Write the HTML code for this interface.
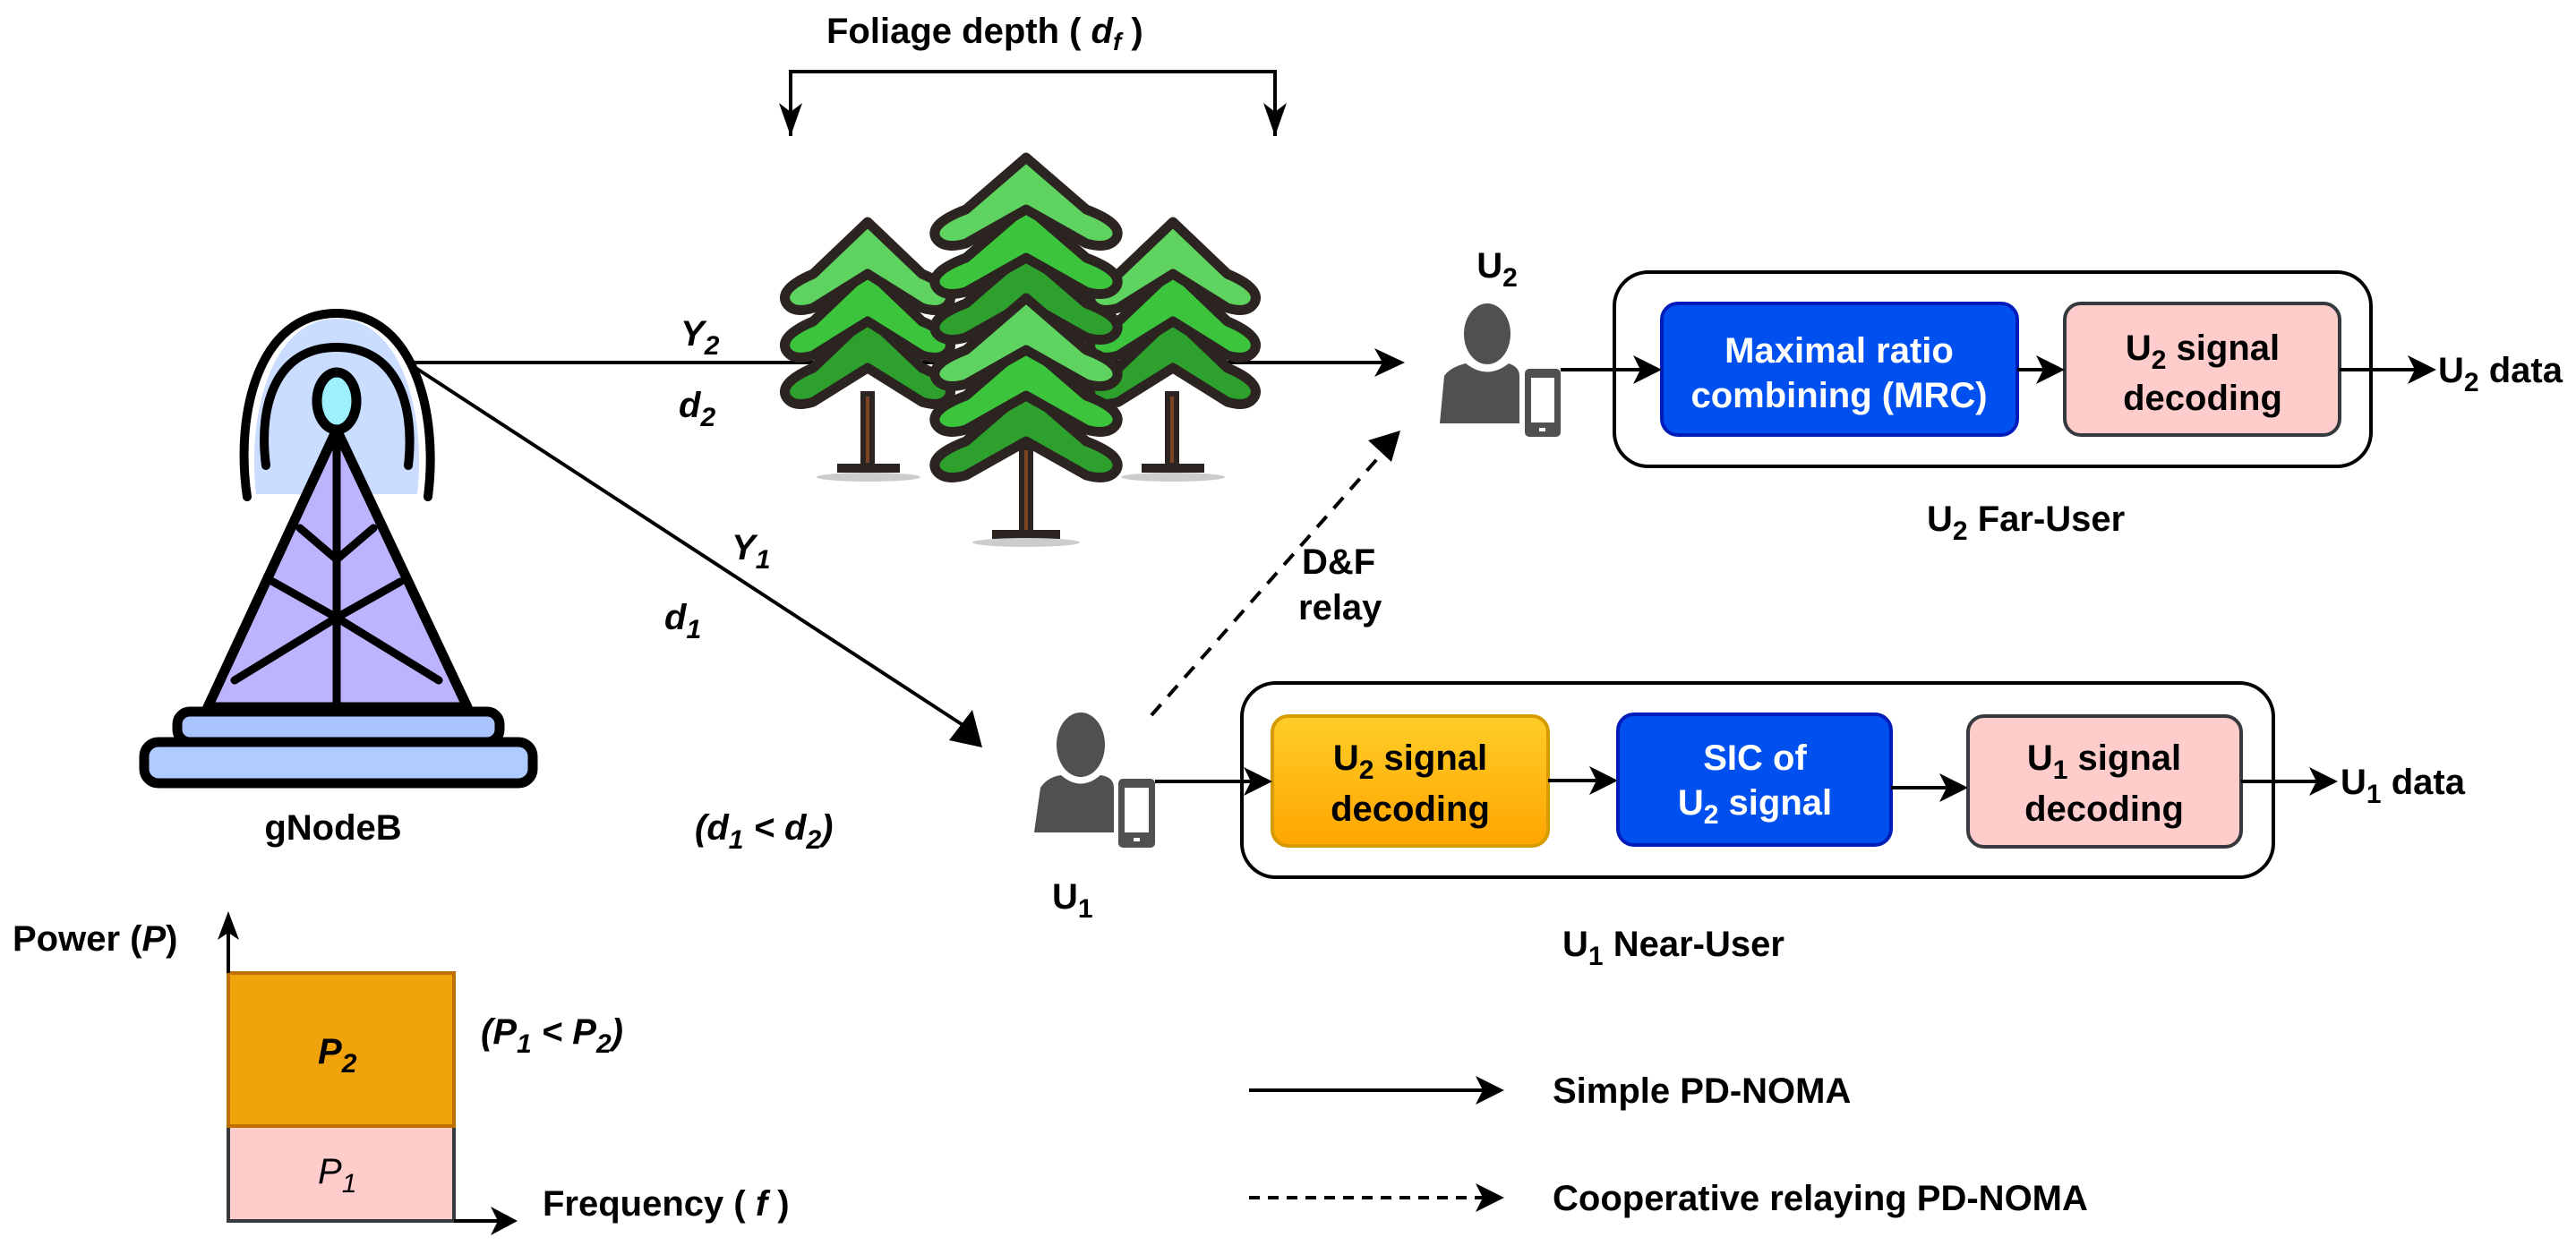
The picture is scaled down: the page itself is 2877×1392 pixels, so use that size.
<!DOCTYPE html>
<html><head><meta charset="utf-8"><style>
html,body{margin:0;padding:0;background:#fff}
svg{display:block}
text{font-family:"Liberation Sans",Arial,sans-serif;font-weight:bold;font-size:40px;fill:#000}
.w{fill:#fff}
.i{font-style:italic}
</style></head><body>
<svg width="2877" height="1392" viewBox="0 0 2877 1392" xmlns="http://www.w3.org/2000/svg">
<defs>
<linearGradient id="og" x1="0" y1="0" x2="0" y2="1"><stop offset="0" stop-color="#ffcd28"/><stop offset="1" stop-color="#ffa500"/></linearGradient>
<g id="tier">
<path d="M0,0 L32,58 Q52,74 48,90 Q44,103 32,96 L0,58 L-32,96 Q-44,103 -48,90 Q-52,74 -32,58 Z" stroke="#2b2420" stroke-width="11" stroke-linejoin="round" vector-effect="non-scaling-stroke"/>
</g>
</defs>

<!-- Foliage label and bracket -->
<text x="923" y="48">Foliage depth ( <tspan class="i">d</tspan><tspan class="i" font-size="28" dy="8">f</tspan><tspan dy="-8"> )</tspan></text>
<polyline points="883,152 883,80 1424,80 1424,152" fill="none" stroke="#000" stroke-width="4"/>
<polygon points="870,115 883,152 896,115 883,125" fill="#000"/>
<polygon points="1411,115 1424,152 1437,115 1424,125" fill="#000"/>

<!-- Y2 link (behind trees) -->
<line x1="455" y1="405" x2="1545" y2="405" stroke="#000" stroke-width="4"/>
<polygon points="1535,389 1569,405 1535,421 1544,405" fill="#000"/>

<!-- Trees -->
<g>
 <!-- left tree -->
 <rect x="964" y="440" width="10" height="80" fill="#7a4520" stroke="#2b2420" stroke-width="6"/>
 <rect x="935" y="518" width="70" height="10" fill="#2b2420"/>
 <ellipse cx="970" cy="533" rx="58" ry="5" fill="#ccc"/>
 <g transform="translate(969,353) scale(1.9,1)" fill="#2da02d"><use href="#tier"/></g>
 <g transform="translate(969,301) scale(1.9,1)" fill="#3cc43c"><use href="#tier"/></g>
 <g transform="translate(969,248) scale(1.9,1)" fill="#5fd35f"><use href="#tier"/></g>
 <!-- right tree -->
 <rect x="1304" y="440" width="10" height="80" fill="#7a4520" stroke="#2b2420" stroke-width="6"/>
 <rect x="1275" y="518" width="70" height="10" fill="#2b2420"/>
 <ellipse cx="1310" cy="533" rx="58" ry="5" fill="#ccc"/>
 <g transform="translate(1310,353) scale(1.9,1)" fill="#2da02d"><use href="#tier"/></g>
 <g transform="translate(1310,301) scale(1.9,1)" fill="#3cc43c"><use href="#tier"/></g>
 <g transform="translate(1310,248) scale(1.9,1)" fill="#5fd35f"><use href="#tier"/></g>
 <!-- center tree -->
 <rect x="1141" y="500" width="10" height="95" fill="#7a4520" stroke="#2b2420" stroke-width="6"/>
 <rect x="1108" y="592" width="76" height="10" fill="#2b2420"/>
 <ellipse cx="1146" cy="606" rx="60" ry="5" fill="#ccc"/>
 <g transform="translate(1146,281) scale(2.1,1)" fill="#2da02d"><use href="#tier"/></g>
 <g transform="translate(1146,230) scale(2.1,1)" fill="#3cc43c"><use href="#tier"/></g>
 <g transform="translate(1146,176) scale(2.1,1)" fill="#5fd35f"><use href="#tier"/></g>
 <g transform="translate(1146,435) scale(2.1,1)" fill="#2da02d"><use href="#tier"/></g>
 <g transform="translate(1146,384) scale(2.1,1)" fill="#3cc43c"><use href="#tier"/></g>
 <g transform="translate(1146,333) scale(2.1,1)" fill="#5fd35f"><use href="#tier"/></g>
</g>

<!-- Tower -->
<g stroke="#000" stroke-linejoin="round" stroke-linecap="round">
 <path d="M286,552 C276,470 300,356 376,356 C452,356 476,470 466,552 Z" fill="#cadcff" stroke="none"/>
 <path d="M276,555 C262,460 290,350 376,350 C462,350 490,460 478,555" fill="none" stroke-width="10"/>
 <path d="M297,520 C288,450 310,388 376,388 C442,388 464,450 456,520" fill="none" stroke-width="10"/>
 <polygon points="376,480 232,790 522,790" fill="#bcb4ff" stroke-width="11"/>
 <line x1="376" y1="480" x2="376" y2="790" stroke-width="9"/>
 <polyline points="335,590 376,625 417,590" fill="none" stroke-width="9"/>
 <polyline points="305,650 376,690 447,650" fill="none" stroke-width="9"/>
 <polyline points="262,760 376,690 490,760" fill="none" stroke-width="9"/>
 <ellipse cx="376" cy="448" rx="22" ry="32" fill="#9ef0ff" stroke-width="11"/>
 <rect x="198" y="795" width="360" height="34" rx="14" fill="#a9c4ff" stroke-width="11"/>
 <rect x="161" y="829" width="434" height="46" rx="16" fill="#b0cbff" stroke-width="11"/>
</g>
<text x="372" y="938" text-anchor="middle">gNodeB</text>

<text class="i" x="760" y="386">Y<tspan font-size="30" dy="10">2</tspan></text>
<text class="i" x="758" y="466">d<tspan font-size="30" dy="10">2</tspan></text>

<!-- Y1 link -->
<line x1="455" y1="405" x2="1083" y2="815" stroke="#000" stroke-width="4"/>
<polygon points="1097,835 1060,827 1073,810 1086,793" fill="#000"/>
<text class="i" x="817" y="625">Y<tspan font-size="30" dy="10">1</tspan></text>
<text class="i" x="742" y="703">d<tspan font-size="30" dy="10">1</tspan></text>
<text class="i" x="776" y="938">(d<tspan font-size="30" dy="10">1</tspan><tspan dy="-10"> &lt; d</tspan><tspan font-size="30" dy="10">2</tspan><tspan dy="-10">)</tspan></text>

<!-- U1 person -->
<g fill="#505050">
 <ellipse cx="1207" cy="832" rx="27" ry="36"/>
 <path d="M1162,880 Q1170,868 1185,866 Q1207,885 1229,866 Q1244,868 1244,880 L1244,930 L1155,930 Z"/>
 <rect x="1249" y="870" width="41" height="77" rx="5"/>
 <rect x="1256" y="880" width="27" height="50" fill="#fff"/>
 <rect x="1266" y="936" width="7" height="4" fill="#fff"/>
</g>
<text x="1175" y="1015">U<tspan font-size="30" dy="10">1</tspan></text>

<!-- Dashed relay -->
<line x1="1286" y1="799" x2="1552" y2="497" stroke="#000" stroke-width="4" stroke-dasharray="16,12"/>
<polygon points="1564,481 1554,516 1540,503 1528,492" fill="#000"/>
<text x="1454" y="641">D&amp;F</text>
<text x="1450" y="692">relay</text>

<!-- U2 person -->
<g fill="#505050">
 <ellipse cx="1661" cy="373" rx="26" ry="34"/>
 <path d="M1613,420 Q1620,410 1637,406 Q1661,425 1685,406 Q1697,410 1697,420 L1697,473 L1608,473 Z"/>
 <rect x="1703" y="412" width="40" height="76" rx="5"/>
 <rect x="1710" y="422" width="26" height="50" fill="#fff"/>
 <rect x="1719" y="478" width="7" height="4" fill="#fff"/>
</g>
<text x="1672" y="310" text-anchor="middle">U<tspan font-size="30" dy="10">2</tspan></text>

<!-- Far user box -->
<rect x="1803" y="304" width="845" height="217" rx="38" fill="none" stroke="#000" stroke-width="4"/>
<rect x="1856" y="339" width="397" height="147" rx="18" fill="#0050ef" stroke="#001dbc" stroke-width="4"/>
<text class="w" x="2054" y="405" text-anchor="middle">Maximal ratio</text>
<text class="w" x="2054" y="455" text-anchor="middle">combining (MRC)</text>
<rect x="2306" y="339" width="307" height="147" rx="18" fill="#ffcccc" stroke="#36393d" stroke-width="4"/>
<text x="2460" y="402" text-anchor="middle">U<tspan font-size="30" dy="10">2</tspan><tspan dy="-10"> signal</tspan></text>
<text x="2460" y="458" text-anchor="middle">decoding</text>
<line x1="1743" y1="413" x2="1835" y2="413" stroke="#000" stroke-width="4"/>
<polygon points="1824,397 1856,413 1824,429 1832,413" fill="#000"/>
<line x1="2253" y1="413" x2="2286" y2="413" stroke="#000" stroke-width="4"/>
<polygon points="2274,397 2306,413 2274,429 2282,413" fill="#000"/>
<line x1="2613" y1="413" x2="2700" y2="413" stroke="#000" stroke-width="4"/>
<polygon points="2689,397 2721,413 2689,429 2697,413" fill="#000"/>
<text x="2723" y="427">U<tspan font-size="30" dy="10">2</tspan><tspan dy="-10"> data</tspan></text>
<text x="2152" y="593">U<tspan font-size="30" dy="10">2</tspan><tspan dy="-10"> Far-User</tspan></text>

<!-- Near user box -->
<rect x="1387" y="763" width="1152" height="217" rx="38" fill="none" stroke="#000" stroke-width="4"/>
<rect x="1421" y="800" width="308" height="145" rx="18" fill="url(#og)" stroke="#d79b00" stroke-width="4"/>
<text x="1575" y="860" text-anchor="middle">U<tspan font-size="30" dy="10">2</tspan><tspan dy="-10"> signal</tspan></text>
<text x="1575" y="917" text-anchor="middle">decoding</text>
<rect x="1807" y="798" width="305" height="146" rx="18" fill="#0050ef" stroke="#001dbc" stroke-width="4"/>
<text class="w" x="1960" y="860" text-anchor="middle">SIC of</text>
<text class="w" x="1960" y="910" text-anchor="middle">U<tspan font-size="30" dy="10">2</tspan><tspan dy="-10"> signal</tspan></text>
<rect x="2198" y="800" width="305" height="146" rx="18" fill="#ffcccc" stroke="#36393d" stroke-width="4"/>
<text x="2350" y="860" text-anchor="middle">U<tspan font-size="30" dy="10">1</tspan><tspan dy="-10"> signal</tspan></text>
<text x="2350" y="917" text-anchor="middle">decoding</text>
<line x1="1290" y1="873" x2="1400" y2="873" stroke="#000" stroke-width="4"/>
<polygon points="1389,857 1421,873 1389,889 1397,873" fill="#000"/>
<line x1="1729" y1="872" x2="1786" y2="872" stroke="#000" stroke-width="4"/>
<polygon points="1775,856 1807,872 1775,888 1783,872" fill="#000"/>
<line x1="2112" y1="880" x2="2177" y2="880" stroke="#000" stroke-width="4"/>
<polygon points="2166,864 2198,880 2166,896 2174,880" fill="#000"/>
<line x1="2503" y1="873" x2="2590" y2="873" stroke="#000" stroke-width="4"/>
<polygon points="2579,857 2611,873 2579,889 2587,873" fill="#000"/>
<text x="2614" y="887">U<tspan font-size="30" dy="10">1</tspan><tspan dy="-10"> data</tspan></text>
<text x="1745" y="1068">U<tspan font-size="30" dy="10">1</tspan><tspan dy="-10"> Near-User</tspan></text>

<!-- Legend -->
<line x1="1395" y1="1218" x2="1660" y2="1218" stroke="#000" stroke-width="4"/>
<polygon points="1648,1202 1680,1218 1648,1234 1656,1218" fill="#000"/>
<text x="1734" y="1232">Simple PD-NOMA</text>
<line x1="1395" y1="1338" x2="1660" y2="1338" stroke="#000" stroke-width="4" stroke-dasharray="12,9"/>
<polygon points="1648,1322 1680,1338 1648,1354 1656,1338" fill="#000"/>
<text x="1734" y="1352">Cooperative relaying PD-NOMA</text>

<!-- Power chart -->
<rect x="255" y="1258" width="252" height="106" fill="#ffcccc" stroke="#36393d" stroke-width="4"/>
<rect x="255" y="1087" width="252" height="171" fill="#f0a30a" stroke="#bd7000" stroke-width="4"/>
<line x1="255" y1="1087" x2="255" y2="1040" stroke="#000" stroke-width="4"/>
<polygon points="243,1050 255,1018 267,1050 255,1042" fill="#000"/>
<line x1="507" y1="1364" x2="560" y2="1364" stroke="#000" stroke-width="4"/>
<polygon points="548,1348 578,1364 548,1380 556,1364" fill="#000"/>
<text x="14" y="1062">Power (<tspan class="i">P</tspan>)</text>
<text class="i" x="355" y="1188">P<tspan font-size="30" dy="10">2</tspan></text>
<text class="i" x="355" y="1322" style="font-weight:normal">P<tspan font-size="30" dy="10">1</tspan></text>
<text class="i" x="537" y="1166">(P<tspan font-size="30" dy="10">1</tspan><tspan dy="-10"> &lt; P</tspan><tspan font-size="30" dy="10">2</tspan><tspan dy="-10">)</tspan></text>
<text x="606" y="1358">Frequency ( <tspan class="i">f</tspan> )</text>
</svg>
</body></html>
